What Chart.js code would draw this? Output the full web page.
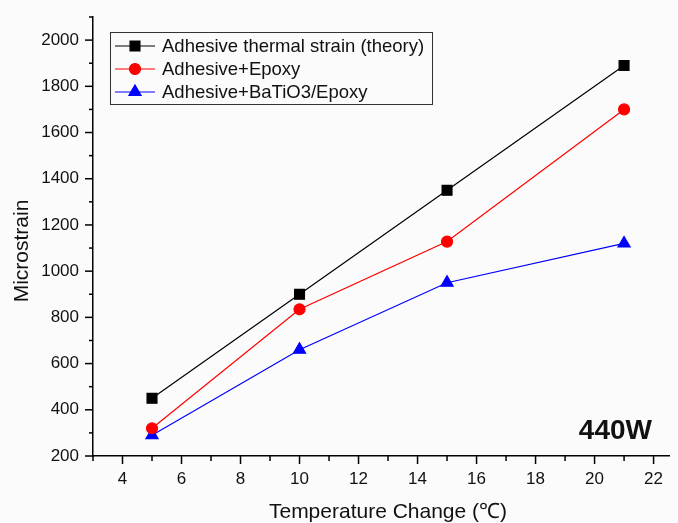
<!DOCTYPE html>
<html>
<head>
<meta charset="utf-8">
<script src="https://cdn.jsdelivr.net/npm/chart.js@4.4.0/dist/chart.umd.min.js"></script>
<style>
    html, body { margin: 0; padding: 0; background: #fbfbfb; }
    #wrap { width: 678px; height: 523px; position: relative; }
</style>
</head>
<body>
<div id="wrap"><canvas id="myChart" width="678" height="523"></canvas></div>
<script>
const temp_change = [5, 10, 15, 21];
const theory_strain = [450, 900, 1350, 1890];
const epoxy_strain = [320, 835, 1128, 1700];
const batio3_strain = [290, 660, 950, 1120];

const x_ticks = [4, 6, 8, 10, 12, 14, 16, 18, 20, 22];
const y_ticks = [200, 400, 600, 800, 1000, 1200, 1400, 1600, 1800, 2000];

const series_names = ['Adhesive thermal strain (theory)', 'Adhesive+Epoxy', 'Adhesive+BaTiO3/Epoxy'];
const x_title = 'Temperature Change (℃)';
const y_title = 'Microstrain';
const power_label = '440W';

const FONT = 'Arial, "Liberation Sans", sans-serif';

function toPoints(values) {
    return temp_change.map((t, i) => ({ x: t, y: values[i] }));
}

// major + minor ticks drawn outward from the axis lines
const tickMarks = {
    id: 'tickMarks',
    afterDraw(chart) {
        const { ctx, scales: { x, y } } = chart;
        ctx.save();
        ctx.strokeStyle = '#000';
        ctx.lineWidth = 1.5;
        for (let v = 3; v <= x.max; v += 1) {
            const px = x.getPixelForValue(v);
            const len = v % 2 === 0 ? 8 : 5;
            ctx.beginPath();
            ctx.moveTo(px, x.top);
            ctx.lineTo(px, x.top + len);
            ctx.stroke();
        }
        for (let v = 200; v <= y.max; v += 100) {
            const py = y.getPixelForValue(v);
            const len = v % 200 === 0 ? 8 : 4;
            ctx.beginPath();
            ctx.moveTo(y.right, py);
            ctx.lineTo(y.right - len, py);
            ctx.stroke();
        }
        ctx.restore();
    }
};

// axis titles placed the way Origin put them
const axisTitles = {
    id: 'axisTitles',
    afterDraw(chart) {
        const { ctx } = chart;
        ctx.save();
        ctx.fillStyle = '#111';
        ctx.font = '21px ' + FONT;
        ctx.textAlign = 'center';
        ctx.textBaseline = 'middle';
        ctx.fillText(x_title, 388, 512);
        ctx.translate(22, 251);
        ctx.rotate(-Math.PI / 2);
        ctx.fillText(y_title, 0, 0);
        ctx.restore();
    }
};

// Origin-style legend box with line+marker samples
const boxLegend = {
    id: 'boxLegend',
    afterDraw(chart) {
        const { ctx } = chart;
        const left = 110, top = 32, w = 322, h = 72, rowH = 23;
        ctx.save();
        ctx.fillStyle = '#fbfbfb';
        ctx.fillRect(left, top, w, h);
        ctx.strokeStyle = '#333';
        ctx.lineWidth = 1;
        ctx.strokeRect(left + 0.5, top + 0.5, w, h);
        ctx.font = '18.5px ' + FONT;
        ctx.textBaseline = 'middle';
        chart.data.datasets.forEach((ds, i) => {
            const cy = top + 14 + i * rowH;
            ctx.strokeStyle = ds.borderColor;
            ctx.lineWidth = 1.2;
            ctx.beginPath();
            ctx.moveTo(left + 5, cy);
            ctx.lineTo(left + 45, cy);
            ctx.stroke();
            Chart.helpers.drawPoint(ctx, {
                pointStyle: ds.pointStyle,
                radius: ds.pointRadius,
                rotation: 0,
                borderWidth: 1
            }, left + 25, cy);
            ctx.fillStyle = ds.borderColor;
            ctx.fill();
            ctx.fillStyle = '#111';
            ctx.fillText(ds.label, left + 52, cy + 1);
        });
        ctx.restore();
    }
};

const cornerLabel = {
    id: 'cornerLabel',
    afterDraw(chart) {
        const { ctx } = chart;
        ctx.save();
        ctx.font = 'bold 28px ' + FONT;
        ctx.fillStyle = '#111';
        ctx.textAlign = 'right';
        ctx.textBaseline = 'alphabetic';
        ctx.fillText(power_label, 652, 439);
        ctx.restore();
    }
};

const data = {
    datasets: [
        {
            label: series_names[0],
            data: toPoints(theory_strain),
            borderColor: '#000000',
            backgroundColor: '#000000',
            pointStyle: 'rect',
            pointRadius: 7,
            borderWidth: 1.2
        },
        {
            label: series_names[1],
            data: toPoints(epoxy_strain),
            borderColor: '#ff0000',
            backgroundColor: '#ff0000',
            pointStyle: 'circle',
            pointRadius: 5.5,
            borderWidth: 1.2
        },
        {
            label: series_names[2],
            data: toPoints(batio3_strain),
            borderColor: '#0000ff',
            backgroundColor: '#0000ff',
            pointStyle: 'triangle',
            pointRadius: 7,
            borderWidth: 1.2
        }
    ]
};

const config = {
    type: 'line',
    data: data,
    options: {
        animation: false,
        responsive: false,
        devicePixelRatio: 1,
        layout: { padding: { top: 17, right: 0, left: 0, bottom: 0 } },
        elements: { line: { tension: 0 }, point: { borderWidth: 1 } },
        plugins: {
            legend: { display: false },
            tooltip: { enabled: false }
        },
        scales: {
            x: {
                type: 'linear',
                min: 3,
                max: 22.55,
                afterBuildTicks: (axis) => { axis.ticks = x_ticks.map(v => ({ value: v })); },
                afterFit: (axis) => { axis.height = 67; },
                border: { color: '#000', width: 1.5 },
                grid: { drawOnChartArea: false, drawTicks: false },
                ticks: { color: '#111', font: { family: FONT, size: 17 }, padding: 13, maxRotation: 0 }
            },
            y: {
                type: 'linear',
                min: 200,
                max: 2100,
                afterBuildTicks: (axis) => { axis.ticks = y_ticks.map(v => ({ value: v })); },
                afterFit: (axis) => {
                    axis.width = 93;
                    axis.paddingTop = 0;
                    axis.paddingBottom = 0;
                },
                border: { color: '#000', width: 1.5 },
                grid: { drawOnChartArea: false, drawTicks: false },
                ticks: {
                    color: '#111',
                    font: { family: FONT, size: 17 },
                    padding: 14,
                    callback: (v) => String(v)
                }
            }
        }
    },
    plugins: [tickMarks, axisTitles, boxLegend, cornerLabel]
};

const ctx = document.getElementById('myChart').getContext('2d');
const myChart = new Chart(ctx, config);
</script>
</body>
</html>
